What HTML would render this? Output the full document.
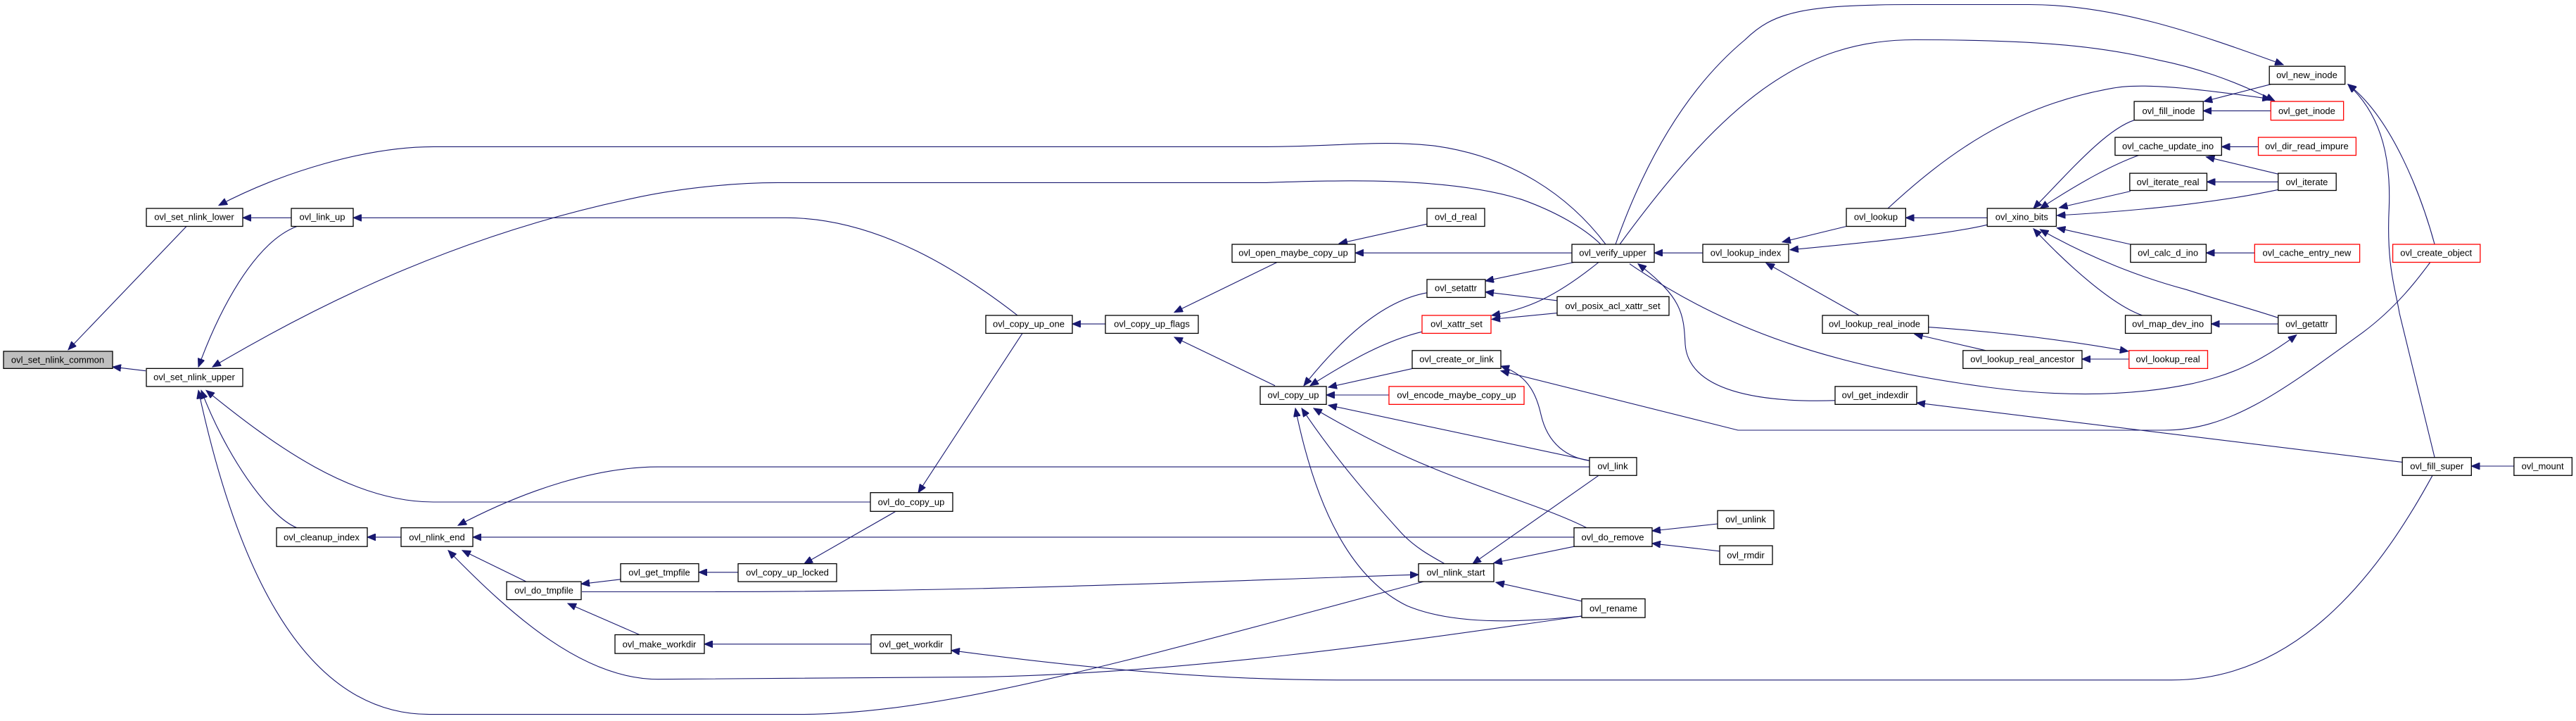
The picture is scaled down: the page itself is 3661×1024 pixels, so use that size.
<!DOCTYPE html>
<html><head><meta charset="utf-8"><style>
html,body{margin:0;padding:0;background:#fff}
svg{display:block}
text{font-family:"Liberation Sans",sans-serif;font-size:13px;text-anchor:middle;dominant-baseline:central;fill:#000}
.n{fill:#fff;stroke:#000;stroke-width:1.3}
.r{fill:#fff;stroke:#f00;stroke-width:1.3}
.e{fill:none;stroke:#191970;stroke-width:1.1;marker-start:url(#a)}
</style></head><body>
<svg id="s" width="3661" height="1024" viewBox="0 0 3661 1024" xmlns="http://www.w3.org/2000/svg">
<defs><marker id="a" markerUnits="userSpaceOnUse" markerWidth="13" markerHeight="10" refX="12" refY="5" orient="auto-start-reverse"><path d="M0,0 L12,5 L0,10 z" fill="#191970" stroke="#191970"/></marker></defs>
<g id="edges">
<path class="e" d="M97,447 L265,289"/>
<path class="e" d="M160,469 L207,474"/>
<path class="e" d="M345,278 L414,278"/>
<path class="e" d="M311,262 C400,220 520,187 616,187 L1800,187 C1900,187 1960,178 2040,186 C2150,200 2230,250 2282,312"/>
<path class="e" d="M282,469 C310,400 360,310 422,289"/>
<path class="e" d="M302,469 C450,390 650,300 900,253 C950,243 1030,233 1105,233 L1800,233 C1900,230 2060,225 2164,255 C2210,270 2250,290 2275,312"/>
<path class="e" d="M502,278 L1117,278 C1250,278 1370,350 1446,403"/>
<path class="e" d="M293,499 C390,570 500,642 616,642 L1237,642"/>
<path class="e" d="M286,499 C320,580 380,660 422,675"/>
<path class="e" d="M282,499 C330,700 420,914 610,914 L1135,914 C1300,914 1500,870 1800,798 L2023,744"/>
<path class="e" d="M637,704 C730,790 830,869 935,869 L1400,866 C1700,860 2000,820 2248,788"/>
<path class="e" d="M522,687 L570,687"/>
<path class="e" d="M651,672 C750,625 850,597 935,597 L2259,597"/>
<path class="e" d="M672,687 L2237,687"/>
<path class="e" d="M657,704 L748,744"/>
<path class="e" d="M826,747 L882,741"/>
<path class="e" d="M2016,735 C1700,744 1400,757 994,757 L827,757"/>
<path class="e" d="M807,772 L909,812"/>
<path class="e" d="M1001,824 L1238,824"/>
<path class="e" d="M993,732 L1049,732"/>
<path class="e" d="M1143,721 L1273,654"/>
<path class="e" d="M1305,630 L1453,426"/>
<path class="e" d="M1524,414 L1571,414"/>
<path class="e" d="M1669,399 L1815,335"/>
<path class="e" d="M1669,431 L1812,493"/>
<path class="e" d="M1926,323 L2234,323"/>
<path class="e" d="M1903,311 L2028,286"/>
<path class="e" d="M1853,493 C1900,440 1960,385 2028,374"/>
<path class="e" d="M1862,493 C1920,460 1970,435 2021,424"/>
<path class="e" d="M1888,495 L2008,471"/>
<path class="e" d="M1885,505 L1974,505"/>
<path class="e" d="M1888,518 L2259,589"/>
<path class="e" d="M1867,522 C1920,550 1980,578 2035,598 C2120,630 2200,650 2255,675"/>
<path class="e" d="M1850,522 C1900,590 1960,650 1990,680 C2010,700 2035,712 2053,721"/>
<path class="e" d="M1841,522 C1870,650 1920,740 2000,775 C2080,805 2200,792 2250,788"/>
<path class="e" d="M2111,359 L2237,335"/>
<path class="e" d="M2111,373 L2213,384"/>
<path class="e" d="M2120,408 L2213,400"/>
<path class="e" d="M2120,403 C2170,395 2210,380 2272,335"/>
<path class="e" d="M2133,468 C2175,480 2185,510 2190,530 C2200,570 2230,585 2258,589"/>
<path class="e" d="M2133,474 L2470,550 L3060,550 C3150,550 3220,500 3330,425 C3380,390 3410,350 3422,335"/>
<path class="e" d="M2093,721 L2272,608"/>
<path class="e" d="M2123,720 L2237,699"/>
<path class="e" d="M2126,745 L2248,769"/>
<path class="e" d="M2348,679 L2441,670"/>
<path class="e" d="M2348,695 L2444,705"/>
<path class="e" d="M2351,323 L2420,323"/>
<path class="e" d="M3222,82 C3100,40 2990,5 2876,5 L2720,5 C2560,5 2520,15 2480,50 C2400,110 2340,200 2296,312"/>
<path class="e" d="M3210,128 C3150,100 3100,85 3052,76 C2980,60 2900,50 2720,50 C2560,50 2450,130 2302,312"/>
<path class="e" d="M2533,309 L2624,289"/>
<path class="e" d="M2544,319 C2650,310 2760,300 2819,287"/>
<path class="e" d="M2510,336 L2642,403"/>
<path class="e" d="M2328,337 C2390,380 2393,400 2395,440 C2400,500 2500,515 2608,512"/>
<path class="e" d="M3240,428 C3180,470 3140,481 3100,490 C3000,510 2900,505 2820,495 C2600,468 2450,420 2316,337"/>
<path class="e" d="M2723,515 L3384,591"/>
<path class="e" d="M2708,278 L2819,278"/>
<path class="e" d="M3205,126 C3100,112 3030,105 2990,112 C2850,135 2760,200 2683,266"/>
<path class="e" d="M3114,129 L3205,107"/>
<path class="e" d="M3113,141 L3205,141"/>
<path class="e" d="M2882,266 C2930,220 2980,165 3019,153"/>
<path class="e" d="M2891,266 C2950,230 2990,210 3025,198"/>
<path class="e" d="M2917,265 L3014,244"/>
<path class="e" d="M2914,275 C3050,268 3150,255 3215,242"/>
<path class="e" d="M2914,291 L3014,312"/>
<path class="e" d="M2882,292 C2930,340 2990,390 3030,403"/>
<path class="e" d="M2891,293 C2960,330 3030,355 3090,370 C3140,385 3180,395 3215,406"/>
<path class="e" d="M3138,187 L3188,187"/>
<path class="e" d="M3117,200 L3215,222"/>
<path class="e" d="M3118,232 L3215,232"/>
<path class="e" d="M3117,323 L3183,323"/>
<path class="e" d="M3124,414 L3215,414"/>
<path class="e" d="M2720,427 L2817,448"/>
<path class="e" d="M2948,459 L3012,459"/>
<path class="e" d="M3011,449 C2900,430 2800,422 2739,418"/>
<path class="e" d="M3310,107 C3370,150 3410,250 3428,312"/>
<path class="e" d="M3310,107 C3360,150 3368,210 3366,264 C3362,340 3375,370 3380,400 L3428,585"/>
<path class="e" d="M3478,596 L3536,596"/>
<path class="e" d="M1352,832 C1500,850 1700,870 1900,870 L3070,870 C3250,870 3360,720 3425,608"/>
</g>
<g id="nodes">
<rect x="5" y="449" width="155" height="22" fill="#bfbfbf" stroke="#000" stroke-width="1.3"/><text x="82" y="460">ovl_set_nlink_common</text>
<rect class="n" x="208" y="266" width="137" height="23"/><text x="276" y="277">ovl_set_nlink_lower</text>
<rect class="n" x="208" y="471" width="137" height="23"/><text x="276" y="482">ovl_set_nlink_upper</text>
<rect class="n" x="414" y="266" width="88" height="23"/><text x="458" y="277">ovl_link_up</text>
<rect class="n" x="393" y="675" width="129" height="24"/><text x="457" y="687">ovl_cleanup_index</text>
<rect class="n" x="570" y="675" width="102" height="24"/><text x="621" y="687">ovl_nlink_end</text>
<rect class="n" x="720" y="744" width="106" height="23"/><text x="773" y="755">ovl_do_tmpfile</text>
<rect class="n" x="882" y="721" width="111" height="23"/><text x="937" y="732">ovl_get_tmpfile</text>
<rect class="n" x="874" y="812" width="127" height="24"/><text x="937" y="824">ovl_make_workdir</text>
<rect class="n" x="1401" y="403" width="123" height="23"/><text x="1462" y="414">ovl_copy_up_one</text>
<rect class="n" x="1571" y="403" width="132" height="23"/><text x="1637" y="414">ovl_copy_up_flags</text>
<rect class="n" x="1751" y="312" width="175" height="23"/><text x="1838" y="323">ovl_open_maybe_copy_up</text>
<rect class="n" x="1791" y="494" width="94" height="23"/><text x="1838" y="505">ovl_copy_up</text>
<rect class="n" x="1237" y="630" width="117" height="24"/><text x="1295" y="642">ovl_do_copy_up</text>
<rect class="n" x="1049" y="721" width="140" height="23"/><text x="1119" y="732">ovl_copy_up_locked</text>
<rect class="n" x="1238" y="812" width="114" height="24"/><text x="1295" y="824">ovl_get_workdir</text>
<rect class="n" x="2028" y="266" width="82" height="23"/><text x="2069" y="277">ovl_d_real</text>
<rect class="n" x="2234" y="312" width="117" height="23"/><text x="2292" y="323">ovl_verify_upper</text>
<rect class="n" x="2028" y="357" width="83" height="23"/><text x="2069" y="368">ovl_setattr</text>
<rect class="n" x="2213" y="379" width="159" height="24"/><text x="2292" y="391">ovl_posix_acl_xattr_set</text>
<rect class="r" x="2021" y="403" width="98" height="23"/><text x="2070" y="414">ovl_xattr_set</text>
<rect class="n" x="2007" y="448" width="126" height="23"/><text x="2070" y="459">ovl_create_or_link</text>
<rect class="r" x="1974" y="494" width="192" height="23"/><text x="2070" y="505">ovl_encode_maybe_copy_up</text>
<rect class="n" x="2259" y="585" width="67" height="23"/><text x="2292" y="596">ovl_link</text>
<rect class="n" x="2237" y="675" width="111" height="24"/><text x="2292" y="687">ovl_do_remove</text>
<rect class="n" x="2441" y="653" width="80" height="23"/><text x="2481" y="664">ovl_unlink</text>
<rect class="n" x="2444" y="698" width="75" height="24"/><text x="2481" y="710">ovl_rmdir</text>
<rect class="n" x="2016" y="721" width="107" height="23"/><text x="2069" y="732">ovl_nlink_start</text>
<rect class="n" x="2248" y="766" width="90" height="24"/><text x="2293" y="778">ovl_rename</text>
<rect class="n" x="2420" y="312" width="122" height="23"/><text x="2481" y="323">ovl_lookup_index</text>
<rect class="n" x="2624" y="266" width="84" height="23"/><text x="2666" y="277">ovl_lookup</text>
<rect class="n" x="2590" y="403" width="149" height="23"/><text x="2664" y="414">ovl_lookup_real_inode</text>
<rect class="n" x="2608" y="494" width="115" height="23"/><text x="2665" y="505">ovl_get_indexdir</text>
<rect class="n" x="3203" y="84" width="103" height="23"/><text x="3254" y="95">ovl_new_inode</text>
<rect class="n" x="3019" y="129" width="94" height="24"/><text x="3066" y="141">ovl_fill_inode</text>
<rect class="r" x="3205" y="129" width="99" height="24"/><text x="3254" y="141">ovl_get_inode</text>
<rect class="n" x="2993" y="175" width="145" height="23"/><text x="3065" y="186">ovl_cache_update_ino</text>
<rect class="r" x="3188" y="175" width="133" height="23"/><text x="3254" y="186">ovl_dir_read_impure</text>
<rect class="n" x="3013" y="221" width="105" height="22"/><text x="3065" y="232">ovl_iterate_real</text>
<rect class="n" x="3215" y="221" width="79" height="22"/><text x="3254" y="232">ovl_iterate</text>
<rect class="n" x="2819" y="266" width="94" height="23"/><text x="2866" y="277">ovl_xino_bits</text>
<rect class="n" x="3014" y="312" width="103" height="23"/><text x="3065" y="323">ovl_calc_d_ino</text>
<rect class="r" x="3183" y="312" width="143" height="23"/><text x="3254" y="323">ovl_cache_entry_new</text>
<rect class="r" x="3371" y="312" width="119" height="23"/><text x="3430" y="323">ovl_create_object</text>
<rect class="n" x="3007" y="403" width="117" height="23"/><text x="3065" y="414">ovl_map_dev_ino</text>
<rect class="n" x="3215" y="403" width="79" height="23"/><text x="3254" y="414">ovl_getattr</text>
<rect class="n" x="2786" y="448" width="162" height="23"/><text x="2867" y="459">ovl_lookup_real_ancestor</text>
<rect class="r" x="3012" y="448" width="107" height="23"/><text x="3065" y="459">ovl_lookup_real</text>
<rect class="n" x="3384" y="585" width="94" height="23"/><text x="3431" y="596">ovl_fill_super</text>
<rect class="n" x="3536" y="585" width="79" height="23"/><text x="3575" y="596">ovl_mount</text>
</g>
</svg>
<script>
(function(){
function X(x){return x<=2700?x:2700+(x-2700)*1.0441;}
function Y(y){return y*1.109+1;}
var ps=document.querySelectorAll('#edges path');
for(var i=0;i<ps.length;i++){
 var d=ps[i].getAttribute('d');
 var out=d.replace(/(-?\d+(?:\.\d+)?),(-?\d+(?:\.\d+)?)/g,function(m,a,b){
  return X(+a).toFixed(1)+','+Y(+b).toFixed(1);});
 ps[i].setAttribute('d',out);
}
var rs=document.querySelectorAll('#nodes rect');
for(var j=0;j<rs.length;j++){
 var r=rs[j],x=+r.getAttribute('x'),y=+r.getAttribute('y'),w=+r.getAttribute('width'),h=+r.getAttribute('height');
 var x1=X(x),x2=X(x+w),y1=Y(y),y2=Y(y+h);
 r.setAttribute('x',x1);r.setAttribute('y',y1);r.setAttribute('width',x2-x1);r.setAttribute('height',y2-y1);
}
var ts=document.querySelectorAll('#nodes text');
for(var k=0;k<ts.length;k++){
 var t=ts[k];t.setAttribute('x',X(+t.getAttribute('x')));t.setAttribute('y',Y(+t.getAttribute('y')));
}
})();
</script>
</body></html>
